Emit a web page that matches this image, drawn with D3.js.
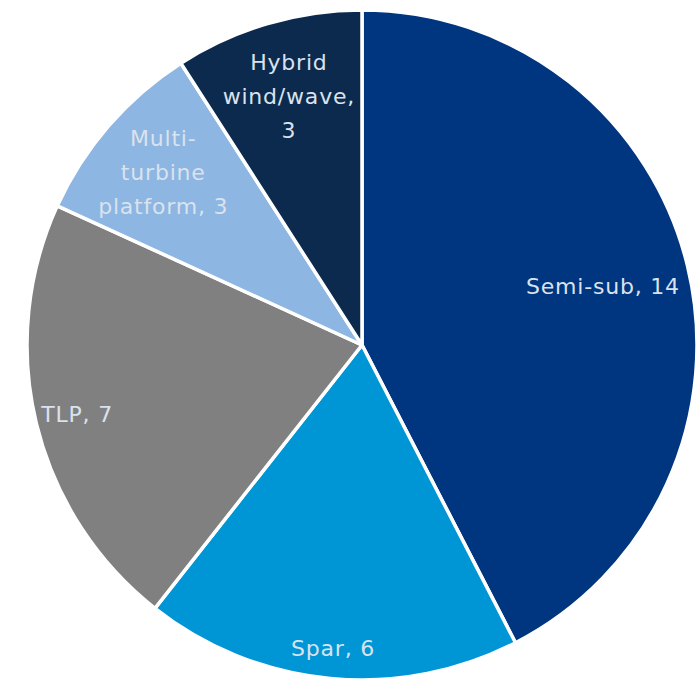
<!DOCTYPE html>
<html>
<head>
<meta charset="utf-8">
<script src="https://cdn.jsdelivr.net/npm/d3@7"></script>
<style>
  body { margin: 0; background: #fff; }
  text { font-family: "DejaVu Sans", sans-serif; }
</style>
</head>
<body>
<div id="chart"></div>
<script>
// data
var categories = ["Semi-sub", "Spar", "TLP", "Multi-turbine platform", "Hybrid wind/wave"];
var counts = [14, 6, 7, 3, 3];
var labelLines = [
  ["Semi-sub, 14"],
  ["Spar, 6"],
  ["TLP, 7"],
  ["Multi-", "turbine", "platform, 3"],
  ["Hybrid", "wind/wave,", "3"]
];
var colors = ["#00357f", "#0096d6", "#808080", "#8db6e2", "#0c2a4e"];

// label radius (fraction of pie radius), like excel best fit
var labelPos = [0.74, 0.91, 0.875, 0.785, 0.775];

var width = 698, height = 684;
var cx = 362, cy = 345, radius = 335;

var svg = d3.select("#chart").append("svg")
    .attr("width", width)
    .attr("height", height)
  .append("g")
    .attr("transform", "translate(" + cx + "," + cy + ")");

var data = categories.map(function(c, i) { return {name: c, value: counts[i], i: i}; });

var pie = d3.pie()
    .value(function(d) { return d.value; })
    .sort(null);

var arc = d3.arc().innerRadius(0).outerRadius(radius);

var arcs = pie(data);

svg.selectAll(".slice")
    .data(arcs)
  .enter().append("path")
    .attr("class", "slice")
    .attr("d", arc)
    .attr("fill", function(d) { return colors[d.data.i]; })
    .attr("stroke", "#fff")
    .attr("stroke-width", 3.5)
    .attr("stroke-linejoin", "round");

var lineH = 34;

var labels = svg.selectAll(".lbl")
    .data(arcs)
  .enter().append("text")
    .attr("class", "lbl")
    .attr("transform", function(d) {
      var r = radius * labelPos[d.data.i];
      var c = d3.arc().innerRadius(r).outerRadius(r).centroid(d);
      return "translate(" + c[0] + "," + c[1] + ")";
    })
    .attr("text-anchor", "middle")
    .attr("fill", "#dae2ed")
    .style("font-size", "22px")
    .style("letter-spacing", "0.8px");

labels.each(function(d) {
  var lines = labelLines[d.data.i];
  var t = d3.select(this);
  var y0 = -(lines.length - 1) * lineH / 2;
  lines.forEach(function(l, k) {
    t.append("tspan")
      .attr("x", 0)
      .attr("y", y0 + k * lineH)
      .attr("dy", "0.35em")
      .text(l);
  });
});
</script>
</body>
</html>
